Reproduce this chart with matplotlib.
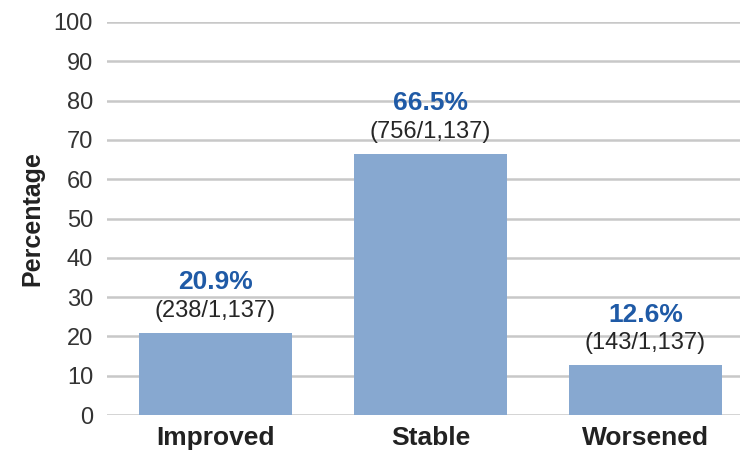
import matplotlib.pyplot as plt
import numpy as np

plt.rcParams['font.family'] = ['Liberation Sans', 'DejaVu Sans']

categories = ["Improved", "Stable", "Worsened"]
pct = [20.9, 66.5, 12.6]
counts = ["(238/1,137)", "(756/1,137)", "(143/1,137)"]
yticks = [0, 10, 20, 30, 40, 50, 60, 70, 80, 90, 100]

fig = plt.figure(figsize=(7.48, 4.5), dpi=100)
ax = fig.add_axes([107 / 748, 1 - 415 / 450, 633 / 748, (415 - 22) / 450])

x = np.arange(len(categories))
ax.bar(x, pct, width=0.71, color="#87a8d0", zorder=3)

for xi, p, c in zip(x, pct, counts):
    ax.annotate(c, (xi, p), xytext=(0, 8), textcoords="offset points",
                ha="center", va="bottom", fontsize=17, color="#262626", zorder=4)
    ax.annotate("%.1f%%" % p, (xi, p), xytext=(0, 28), textcoords="offset points",
                ha="center", va="bottom", fontsize=19, fontweight="bold",
                color="#1f5aa6", zorder=4)

ax.set_xlim(-0.505, 2.44)
ax.set_ylim(0, 100)
ax.set_yticks(yticks)
ax.set_xticks(x)
ax.set_xticklabels(categories, fontsize=19, fontweight="bold", color="#222222")
ax.tick_params(axis="y", labelsize=17, colors="#333333", length=0, pad=10)
ax.tick_params(axis="x", length=0, pad=8)
ax.set_ylabel("Percentage", fontsize=18, fontweight="bold", color="#222222", labelpad=7)

ax.grid(axis="y", color="#c8c8c8", linewidth=1.8, zorder=0)
for s in ax.spines.values():
    s.set_visible(False)

fig.savefig("out.png", dpi=100)
